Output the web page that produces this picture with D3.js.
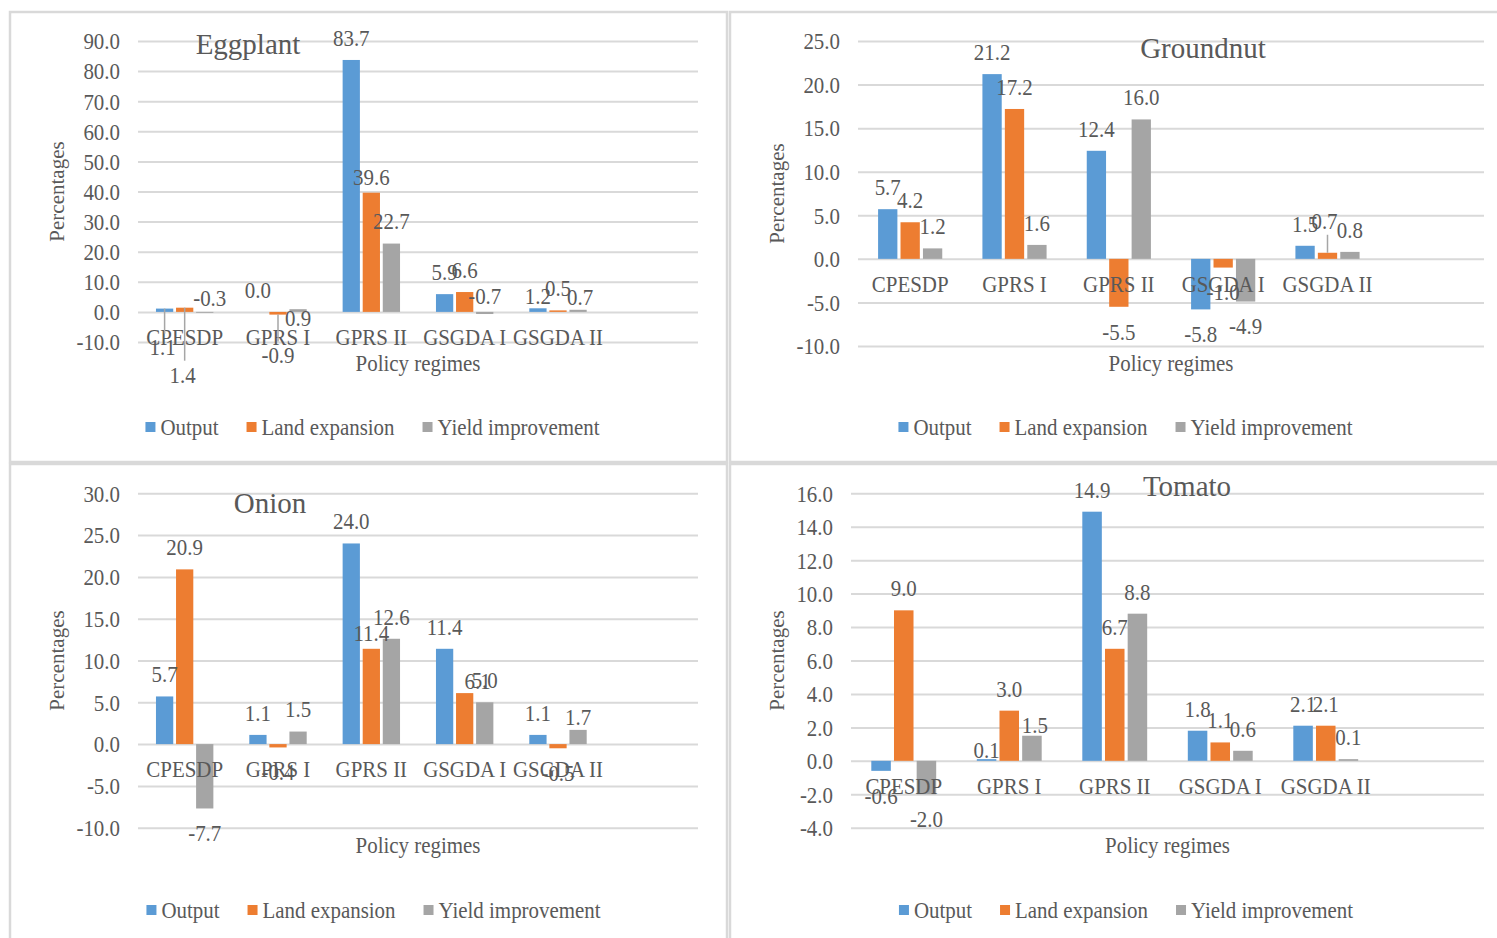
<!DOCTYPE html>
<html>
<head>
<meta charset="utf-8">
<script src="https://cdn.jsdelivr.net/npm/d3@7"></script>
<style>
  body { margin: 0; background: #fff; }
  svg { display: block; }
  text { font-family: "Liberation Serif", "Times New Roman", serif; fill: #595959; }
</style>
</head>
<body>
<svg id="chart" width="1497" height="938"></svg>
<script>
// ---- data ----
const categories = ["CPESDP", "GPRS I", "GPRS II", "GSGDA I", "GSGDA II"];
const seriesNames = ["Output", "Land expansion", "Yield improvement"];
const seriesColors = ["#5B9BD5", "#ED7D31", "#A5A5A5"];

const eggplantOutput = [1.1, 0.0, 83.7, 5.9, 1.2];
const eggplantLand   = [1.4, -0.9, 39.6, 6.6, 0.5];
const eggplantYield  = [-0.3, 0.9, 22.7, -0.7, 0.7];
const eggplantTicks  = [-10, 0, 10, 20, 30, 40, 50, 60, 70, 80, 90];

const groundnutOutput = [5.7, 21.2, 12.4, -5.8, 1.5];
const groundnutLand   = [4.2, 17.2, -5.5, -1.0, 0.7];
const groundnutYield  = [1.2, 1.6, 16.0, -4.9, 0.8];
const groundnutTicks  = [-10, -5, 0, 5, 10, 15, 20, 25];

const onionOutput = [5.7, 1.1, 24.0, 11.4, 1.1];
const onionLand   = [20.9, -0.4, 11.4, 6.1, -0.5];
const onionYield  = [-7.7, 1.5, 12.6, 5.0, 1.7];
const onionTicks  = [-10, -5, 0, 5, 10, 15, 20, 25, 30];

const tomatoOutput = [-0.6, 0.1, 14.9, 1.8, 2.1];
const tomatoLand   = [9.0, 3.0, 6.7, 1.1, 2.1];
const tomatoYield  = [-2.0, 1.5, 8.8, 0.6, 0.1];
const tomatoTicks  = [-4, -2, 0, 2, 4, 6, 8, 10, 12, 14, 16];

// hand-moved data labels: [series, category, dx, dy, leader line]
const eggplantNudges = [
  [0, 0, -2, 61, true], [1, 0, -2, 89, true], [2, 0, 5, -40, false],
  [1, 1, 0, 16, true], [2, 1, 0, 31, false], [1, 2, 0, 6, false],
  [2, 3, 0, -43, false], [0, 4, 0, 10, false], [2, 4, 2, 9, false]
];
const groundnutNudges = [[1, 4, -3, -10, true]];
const onionNudges = [[1, 2, 0, 6, false], [1, 3, 13, 10, false], [2, 4, 0, 9, false]];
const tomatoNudges = [[0, 1, 0, 13, false], [2, 1, 3, 11, false]];

// ---- layout ----
const FS = 23, SX = 0.91, TITLE_FS = 29, YTITLE_FS = 21;

const panels = [
  { title: "Eggplant", series: [eggplantOutput, eggplantLand, eggplantYield], ticks: eggplantTicks, nudges: eggplantNudges,
    frame: [10, 12, 717, 450], plot: { x0: 138, x1: 698, y0: 41, y1: 342 },
    titlePos: [248, 44], yTitleX: 57, xTitleY: 363, legendPos: [372.5, 427] },
  { title: "Groundnut", series: [groundnutOutput, groundnutLand, groundnutYield], ticks: groundnutTicks, nudges: groundnutNudges,
    frame: [730, 12, 800, 450], plot: { x0: 858, x1: 1484, y0: 41, y1: 346 },
    titlePos: [1203, 47.5], yTitleX: 777, xTitleY: 363, legendPos: [1125.5, 427] },
  { title: "Onion", series: [onionOutput, onionLand, onionYield], ticks: onionTicks, nudges: onionNudges,
    frame: [10, 464, 717, 500], plot: { x0: 138, x1: 698, y0: 493.3, y1: 827.7 },
    titlePos: [270, 502.5], yTitleX: 57, xTitleY: 845, legendPos: [373.5, 910] },
  { title: "Tomato", series: [tomatoOutput, tomatoLand, tomatoYield], ticks: tomatoTicks, nudges: tomatoNudges,
    frame: [730, 464, 800, 500], plot: { x0: 851, x1: 1484, y0: 493.3, y1: 827.7 },
    titlePos: [1187, 486], yTitleX: 777, xTitleY: 845, legendPos: [1126, 910] }
];

const fmt = d3.formatLocale({ decimal: ".", thousands: ",", grouping: [3], currency: ["", ""], minus: "-" }).format(".1f");
const svg = d3.select("#chart");

function scaledText(g, str, x, y, size, anchor) {
  return g.append("text")
    .attr("transform", `translate(${x},${y}) scale(${SX},1)`)
    .attr("text-anchor", anchor)
    .attr("dominant-baseline", "central")
    .attr("font-size", size)
    .text(str);
}

panels.forEach(p => {
  const g = svg.append("g");

  g.append("rect")
    .attr("x", p.frame[0]).attr("y", p.frame[1])
    .attr("width", p.frame[2]).attr("height", p.frame[3])
    .attr("fill", "none").attr("stroke", "#d9d9d9").attr("stroke-width", 2.5);

  const y = d3.scaleLinear().domain(d3.extent(p.ticks)).range([p.plot.y1, p.plot.y0]);
  // five policy regimes plus one empty slot on the right
  const x = d3.scaleBand().domain(d3.range(categories.length + 1)).range([p.plot.x0, p.plot.x1]);
  const band = x.bandwidth();
  const barW = band * 0.185, gap = band * 0.03;
  const groupW = 3 * barW + 2 * gap;
  const xs = d3.scaleBand().domain(d3.range(seriesNames.length)).range([0, groupW]).paddingInner(gap / (barW + gap));
  const barX = (s, i) => x(i) + band / 2 - groupW / 2 + xs(s);

  // gridlines and value labels
  const yAxis = g.append("g")
    .attr("transform", `translate(${p.plot.x0},0)`)
    .call(d3.axisLeft(y).tickValues(p.ticks).tickFormat(fmt)
      .tickSize(-(p.plot.x1 - p.plot.x0)).tickPadding(18));
  yAxis.attr("font-family", null).attr("font-size", null);
  yAxis.select(".domain").remove();
  yAxis.selectAll(".tick line").attr("stroke", "#d9d9d9").attr("stroke-width", 2);
  yAxis.selectAll(".tick text").each(function () {
    const t = d3.select(this);
    const tx = +t.attr("x");
    t.attr("x", null).attr("dy", null)
      .attr("dominant-baseline", "central")
      .attr("font-size", FS)
      .attr("transform", `translate(${tx},0) scale(${SX},1)`);
  });

  // bars
  p.series.forEach((vals, s) => {
    g.append("g").selectAll("rect")
      .data(vals)
      .join("rect")
      .attr("x", (d, i) => barX(s, i))
      .attr("width", xs.bandwidth())
      .attr("y", d => y(Math.max(0, d)))
      .attr("height", d => Math.abs(y(d) - y(0)))
      .attr("fill", seriesColors[s]);
  });

  // category labels along the zero line
  const xAxis = g.append("g")
    .attr("transform", `translate(0,${y(0)})`)
    .call(d3.axisBottom(x).tickFormat(i => categories[i] || "").tickSize(0));
  xAxis.attr("font-family", null).attr("font-size", null);
  xAxis.select(".domain").remove();
  xAxis.selectAll(".tick text")
    .attr("y", null).attr("dy", null)
    .attr("dominant-baseline", "central")
    .attr("font-size", FS)
    .attr("transform", `translate(0,25) scale(${SX},1)`);

  // data labels
  const lbl = g.append("g");
  p.series.forEach((vals, s) => {
    vals.forEach((v, i) => {
      const cx = barX(s, i) + xs.bandwidth() / 2;
      let ly = v >= 0 ? y(v) - 22 : y(v) + 25;
      let lx = cx;
      const n = p.nudges.find(d => d[0] === s && d[1] === i);
      if (n) {
        lx += n[2];
        ly += n[3];
        if (n[4]) {
          const end = ly > y(v) ? ly - 14 : ly + 14;
          lbl.append("line")
            .attr("x1", cx).attr("x2", cx)
            .attr("y1", y(v)).attr("y2", end)
            .attr("stroke", "#a6a6a6").attr("stroke-width", 1.5);
        }
      }
      scaledText(lbl, fmt(v), lx, ly, FS, "middle");
    });
  });

  // chart title
  g.append("text")
    .attr("x", p.titlePos[0]).attr("y", p.titlePos[1])
    .attr("text-anchor", "middle").attr("dominant-baseline", "central")
    .attr("font-size", TITLE_FS)
    .text(p.title);

  // axis titles
  g.append("text")
    .attr("transform", `translate(${p.yTitleX},${(p.plot.y0 + p.plot.y1) / 2}) rotate(-90)`)
    .attr("text-anchor", "middle").attr("dominant-baseline", "central")
    .attr("font-size", YTITLE_FS)
    .text("Percentages");
  scaledText(g, "Policy regimes", (p.plot.x0 + p.plot.x1) / 2, p.xTitleY, FS, "middle");

  // legend
  const lg = g.append("g");
  let off = 0;
  seriesNames.forEach((name, s) => {
    const item = lg.append("g").attr("transform", `translate(${off},0)`);
    item.append("rect").attr("x", 0).attr("y", -5).attr("width", 10).attr("height", 10).attr("fill", seriesColors[s]);
    const t = scaledText(item, name, 15, 0, FS, "start");
    off += 15 + t.node().getComputedTextLength() * SX + 28;
  });
  const total = off - 28;
  lg.attr("transform", `translate(${p.legendPos[0] - total / 2},${p.legendPos[1]})`);
});
</script>
</body>
</html>
